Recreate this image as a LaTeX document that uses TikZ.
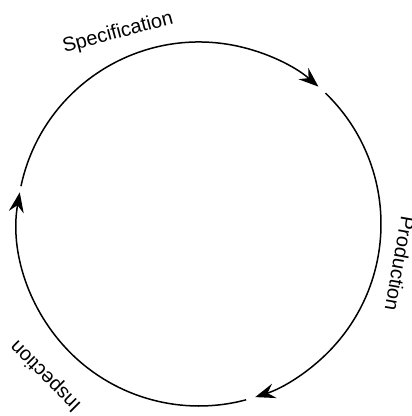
\documentclass[tikz,border=0pt]{standalone}
\usepackage{fontspec}
\setmainfont{Liberation Sans}
\usetikzlibrary{arrows.meta,calc}
\tikzset{
  cyc/.style={line width=1.5pt, -{Stealth[length=20pt,width=15pt,inset=7pt]}},
  lbl/.style={font=\fontsize{20}{23}\selectfont, inner sep=0pt}
}
\begin{document}
\begin{tikzpicture}[x=1pt,y=1pt]
\useasboundingbox (0,0) rectangle (412,416);
\coordinate (c) at (199,192);
\draw[cyc] ([shift={(168:182)}]c) arc[start angle=168,end angle=49,radius=182];
\draw[cyc] ([shift={(46:182)}]c) arc[start angle=46,end angle=-72,radius=182];
\draw[cyc] ([shift={(-75:182)}]c) arc[start angle=-75,end angle=-190,radius=182];
\node[lbl, rotate=15] (spec) at (118,383) {Specification};
\node[lbl, rotate=-100] (prod) at (400,152) {Production};
\node[lbl, rotate=135] (insp) at (46,40) {Inspection};
\end{tikzpicture}
\end{document}
